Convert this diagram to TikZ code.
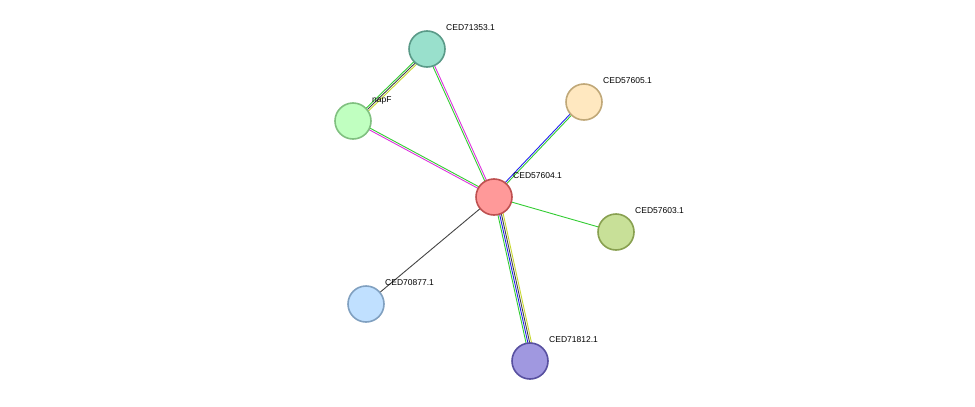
\documentclass[tikz,border=0pt]{standalone}
\usepackage{fontspec}
\setmainfont{Liberation Sans}
\usetikzlibrary{calc}
\definecolor{tgreen}{HTML}{33CC33}
\definecolor{tmag}{HTML}{DD33DD}
\definecolor{tblue}{HTML}{2222EE}
\definecolor{tyel}{HTML}{C8D830}
\definecolor{tdark}{HTML}{444444}
\tikzset{
  prot/.style={circle,minimum size=36pt,inner sep=0pt,line width=1.6pt},
  lbl/.style={anchor=west,font=\fontsize{8.5}{10}\selectfont,inner sep=1pt},
}
% draw one link as parallel coloured lines
\newcommand{\strlink}[3]{%
  \foreach \c [count=\i] in {#3} {
    \pgfmathsetmacro{\off}{(\i-1)*1.8}
    \draw[\c,line width=0.9pt] ($(#1)!\off pt!90:(#2)$) -- ($(#2)!\off pt!-90:(#1)$);
  }}
\begin{document}
\begin{tikzpicture}[x=1pt,y=-1pt]
    \useasboundingbox (0,0) rectangle (975,407);
    \coordinate (a) at (494,197);
    \coordinate (b) at (427,49);
    \coordinate (c) at (353,121);
    \coordinate (d) at (584,102);
    \coordinate (e) at (616,232);
    \coordinate (f) at (366,304);
    \coordinate (g) at (530,361);
    % links
    \strlink{a}{b}{tmag,tgreen}
    \strlink{c}{a}{tmag,tgreen}
    \strlink{b}{c}{tgreen,tdark,tyel}
    \strlink{a}{d}{tgreen,tblue}
    \strlink{a}{e}{tgreen}
    \strlink{a}{f}{tdark}
    \strlink{a}{g}{tgreen,tblue,tdark,tyel}
    % proteins
    \node[prot,fill={rgb,255:red,255;green,153;blue,153},draw={rgb,255:red,190;green,80;blue,80}] (n57604) at (a) {};
    \node[prot,fill={rgb,255:red,153;green,224;blue,204},draw={rgb,255:red,90;green,154;blue,136}] (n71353) at (b) {};
    \node[prot,fill={rgb,255:red,192;green,255;blue,192},draw={rgb,255:red,128;green,192;blue,128}] (nnapF) at (c) {};
    \node[prot,fill={rgb,255:red,255;green,232;blue,192},draw={rgb,255:red,192;green,168;blue,120}] (n57605) at (d) {};
    \node[prot,fill={rgb,255:red,200;green,224;blue,152},draw={rgb,255:red,136;green,160;blue,80}] (n57603) at (e) {};
    \node[prot,fill={rgb,255:red,192;green,224;blue,255},draw={rgb,255:red,128;green,160;blue,192}] (n70877) at (f) {};
    \node[prot,fill={rgb,255:red,160;green,152;blue,224},draw={rgb,255:red,88;green,80;blue,160}] (n71812) at (g) {};
    % labels
    \node[lbl] at (512,176) {CED57604.1};
    \node[lbl] at (445,28) {CED71353.1};
    \node[lbl] at (371,100) {napF};
    \node[lbl] at (602,81) {CED57605.1};
    \node[lbl] at (634,211) {CED57603.1};
    \node[lbl] at (384,283) {CED70877.1};
    \node[lbl] at (548,340) {CED71812.1};
\end{tikzpicture}
\end{document}
